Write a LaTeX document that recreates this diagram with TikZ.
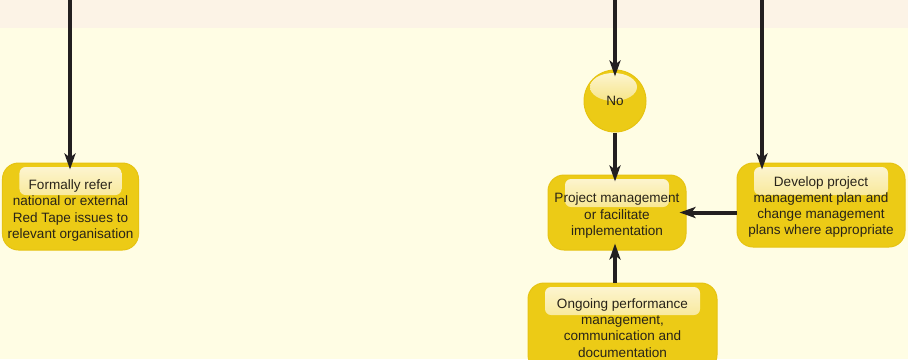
\documentclass[tikz,border=0pt]{standalone}
\usepackage{fontspec}
\setmainfont{Liberation Sans}
\usetikzlibrary{calc,arrows.meta}
\definecolor{bgtop}{RGB}{252,243,230}
\definecolor{bgmain}{RGB}{255,253,228}
\definecolor{gold}{RGB}{236,203,22}
\definecolor{goldedge}{RGB}{230,195,18}
\definecolor{hilite}{RGB}{253,246,214}
\definecolor{hilitelow}{RGB}{240,212,60}
\definecolor{ink}{RGB}{35,31,32}
\definecolor{txt}{RGB}{40,35,25}
\tikzset{
  box/.style={draw=goldedge, line width=1bp, fill=gold, rounded corners=16bp, inner sep=0pt,
    path picture={\fill[top color=hilite, bottom color=hilitelow, rounded corners=6bp]
      ($(path picture bounding box.north west)+(17,4)$) rectangle
      ($(path picture bounding box.north east)+(-17,32)$);}},
  boxtext/.style={align=center, font=\fontsize{13.6}{16.3}\selectfont, text=txt, inner sep=0pt},
  flow/.style={draw=ink, line width=4bp, shorten >=-7bp,
    -{Stealth[length=16bp,width=11bp,inset=4bp]}},
}
\begin{document}
\begin{tikzpicture}[x=1bp,y=-1bp]
\fill[bgmain] (0,0) rectangle (908,359);
\fill[bgtop] (0,0) rectangle (908,28);
\useasboundingbox (0,0) rectangle (908,359);

\node[box, minimum width=136bp, minimum height=87bp,
  label={[boxtext, yshift=-4bp]center:{Formally refer\\national or external\\Red Tape issues to\\relevant organisation}}]
  (refer) at (70.5,206.5) {};
\node[box, minimum width=138bp, minimum height=75bp,
  label={[boxtext, yshift=-3bp]center:{Project management\\or facilitate\\implementation}}]
  (pm) at (617,212.5) {};
\node[box, minimum width=168bp, minimum height=84bp,
  label={[boxtext, yshift=-2bp]center:{Develop project\\management plan and\\change management\\plans where appropriate}}]
  (plan) at (821,205) {};
\node[box, minimum width=189bp, minimum height=88bp,
  label={[boxtext, yshift=-1bp]center:{Ongoing performance\\management,\\communication and\\documentation}}]
  (ongoing) at (622.5,327) {};
\node[circle, draw=goldedge, line width=1bp, fill=gold, minimum size=62bp, inner sep=0pt,
  font=\fontsize{13.6}{16.3}\selectfont, text=txt,
  path picture={\fill[top color=hilite, bottom color=hilitelow]
    ($(path picture bounding box.center)+(-1.5,-14)$) ellipse[x radius=23.5bp, y radius=14bp];}]
  (no) at (615,101) {No};

\coordinate (t1) at (70,0);
\coordinate (t2) at (615,0);
\coordinate (t3) at (762,0);

\draw[flow] (t1) -- (t1 |- refer.north);
\draw[flow] (t2) -- (no.north);
\draw[flow] (no.south) -- (no.south |- pm.north);
\draw[flow] (t3) -- (t3 |- plan.north);
\draw[flow] (plan.west |- pm.east) -- (pm.east);
\draw[flow] (no.south |- ongoing.north) -- (no.south |- pm.south);
\end{tikzpicture}
\end{document}
